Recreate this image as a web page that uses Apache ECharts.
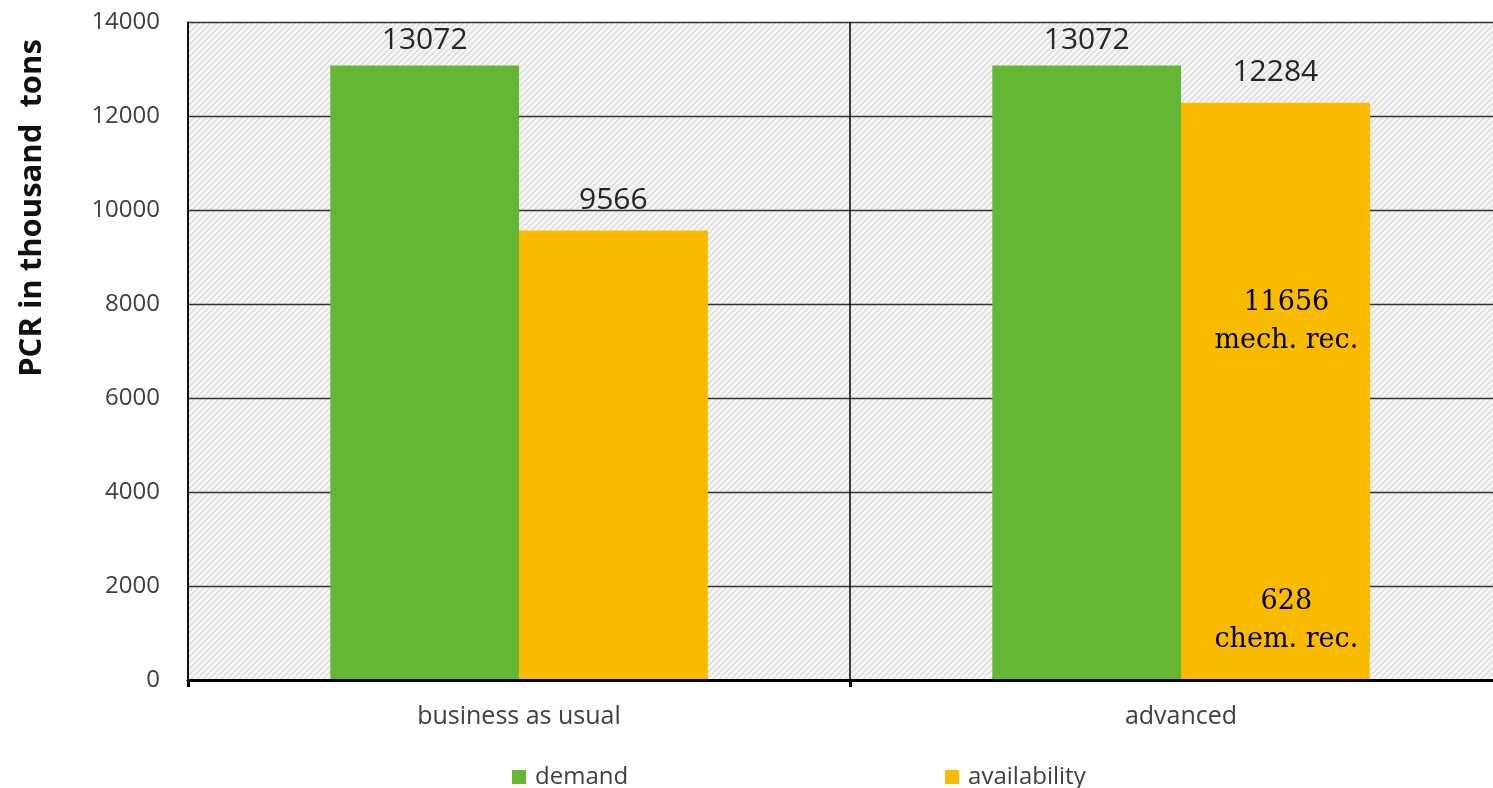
<!DOCTYPE html>
<html>
<head>
<meta charset="utf-8">
<title>PCR demand and availability</title>
<script src="https://cdn.jsdelivr.net/npm/echarts@6/dist/echarts.min.js"></script>
<style>
  html, body { margin: 0; padding: 0; background: #ffffff; }
  #chart { width: 1493px; height: 788px; }
</style>
</head>
<body>
<div id="chart"></div>
<script>
// Scenarios and values (thousand tons)
const categories = ['business as usual', 'advanced'];
const demand = [13072, 13072];
const availabilityTotal = [9566, 12284];
// Split of availability into recycling routes (advanced scenario only)
const chemRec = [0, 628];
const mechRec = [9566, 11656];
const yTicks = [0, 2000, 4000, 6000, 8000, 10000, 12000, 14000];

const GREEN = '#63b732';
const YELLOW = '#f9bb00';
const SANS = '"Open Sans", "Noto Sans", sans-serif';
const SERIF = '"DejaVu Serif", "Liberation Serif", serif';

// Diagonal hatch used as the plot background
function hatchPattern() {
  const s = 6;
  const c = document.createElement('canvas');
  c.width = s; c.height = s;
  const g = c.getContext('2d');
  g.fillStyle = '#f6f6f6';
  g.fillRect(0, 0, s, s);
  g.strokeStyle = '#dadada';
  g.lineWidth = 1.3;
  g.beginPath();
  g.moveTo(-1, s + 1); g.lineTo(s + 1, -1);
  g.moveTo(-1, 1); g.lineTo(1, -1);
  g.moveTo(s - 1, s + 1); g.lineTo(s + 1, s - 1);
  g.stroke();
  return c;
}

const chart = echarts.init(document.getElementById('chart'), null, { renderer: 'canvas' });

const topLabel = (distance) => ({
  show: true,
  position: 'top',
  distance: distance,
  color: '#262626',
  fontFamily: SANS,
  fontSize: 30,
  lineHeight: 30
});

const innerLabel = (text, position, distance, offset) => ({
  show: true,
  position: position,
  distance: distance,
  offset: offset,
  fontFamily: SERIF,
  fontSize: 27,
  lineHeight: 38,
  color: '#000000',
  formatter: text
});

chart.setOption({
  animation: false,
  backgroundColor: '#ffffff',
  grid: {
    left: 188,
    top: 22,
    width: 1324,
    bottom: 108,
    outerBoundsMode: 'none',
    containLabel: false,
    show: true,
    borderWidth: 0,
    backgroundColor: { image: hatchPattern(), repeat: 'repeat' }
  },
  legend: {
    data: ['demand', 'availability'],
    left: 507,
    top: 760,
    icon: 'rect',
    itemWidth: 14,
    itemHeight: 14,
    itemGap: 317,
    textStyle: {
      fontFamily: SANS,
      fontSize: 24,
      color: '#404040',
      padding: [0, 0, 0, 4]
    }
  },
  graphic: [{
    type: 'text',
    x: 32,
    y: 208,
    rotation: Math.PI / 2,
    style: {
      text: 'PCR in thousand  tons',
      fontFamily: SANS,
      fontWeight: 'bold',
      fontSize: 31,
      fill: '#111111',
      align: 'center',
      verticalAlign: 'middle'
    }
  }],
  xAxis: {
    type: 'category',
    data: categories,
    boundaryGap: true,
    axisLine: { show: true, lineStyle: { color: '#000000', width: 3 } },
    axisTick: { show: true, length: 7, lineStyle: { color: '#000000', width: 3 } },
    axisLabel: {
      margin: 24,
      fontFamily: SANS,
      fontSize: 25,
      color: '#404040'
    },
    splitLine: { show: true, lineStyle: { color: '#000000', width: 1.5 } },
    z: 5
  },
  yAxis: {
    type: 'value',
    min: yTicks[0],
    max: yTicks[yTicks.length - 1],
    interval: yTicks[1] - yTicks[0],
    axisLine: { show: true, lineStyle: { color: '#000000', width: 1.5 } },
    axisTick: { show: false },
    axisLabel: {
      margin: 28,
      fontFamily: SANS,
      fontSize: 24,
      color: '#404040',
      formatter: (v) => String(v)
    },
    splitLine: { show: true, lineStyle: { color: '#333333', width: 1.3 } }
  },
  series: [
    {
      name: 'demand',
      type: 'bar',
      data: demand,
      barGap: '0%',
      barCategoryGap: '43%',
      itemStyle: { color: GREEN },
      label: topLabel(10)
    },
    {
      name: 'availability',
      type: 'bar',
      stack: 'availability',
      data: chemRec.map((v) => ({
        value: v,
        label: v > 0 ? innerLabel(v + '\nchem. rec.', 'top', 0, [11, 9]) : { show: false }
      })),
      barGap: '0%',
      barCategoryGap: '43%',
      itemStyle: { color: YELLOW }
    },
    {
      name: 'availability',
      type: 'bar',
      stack: 'availability',
      data: mechRec.map((v, i) => ({
        value: v,
        label: chemRec[i] > 0 ? innerLabel(v + '\nmech. rec.', 'insideTop', 5, [11, 176]) : { show: false }
      })),
      barGap: '0%',
      barCategoryGap: '43%',
      // a 1px same-colour drop shadow closes the joint with the segment below
      itemStyle: {
        color: YELLOW,
        shadowColor: YELLOW,
        shadowBlur: 0.1,
        shadowOffsetX: 0,
        shadowOffsetY: 1.5
      }
    },
    {
      // zero-height cap carrying the total availability label
      name: 'availability',
      type: 'bar',
      stack: 'availability',
      data: availabilityTotal.map(() => 0),
      barGap: '0%',
      barCategoryGap: '43%',
      itemStyle: { color: YELLOW },
      label: Object.assign(topLabel(15), {
        formatter: (p) => String(availabilityTotal[p.dataIndex])
      })
    }
  ]
});
</script>
</body>
</html>
